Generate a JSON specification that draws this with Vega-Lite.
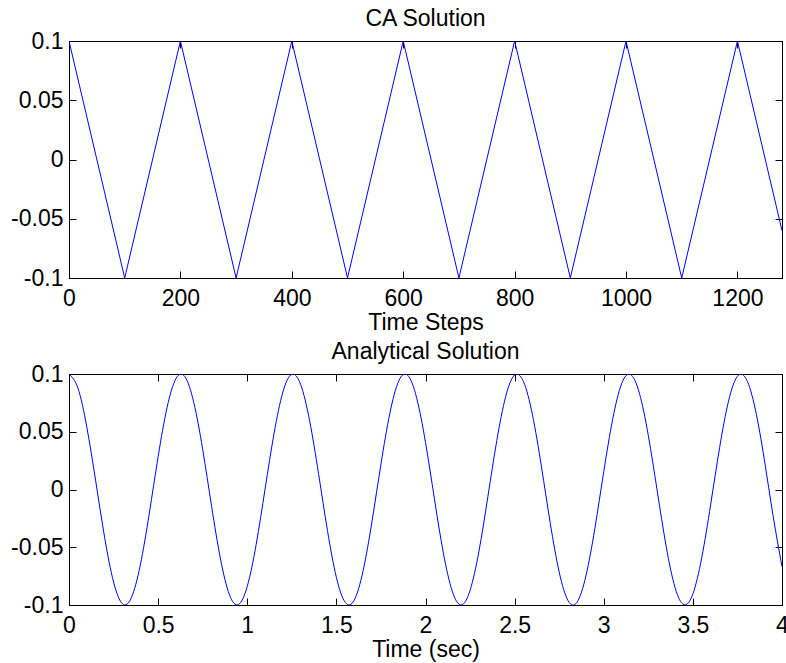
{
  "$schema": "https://vega.github.io/schema/vega-lite/v6.json",
  "padding": {"left": 10, "top": 7, "right": 0, "bottom": 0},
  "background": "white",
  "spacing": 5,
  "datasets": {
    "ca": [
      {"step": 0, "u": 0.1}, {"step": 100, "u": -0.1}, {"step": 200, "u": 0.1},
      {"step": 300, "u": -0.1}, {"step": 400, "u": 0.1}, {"step": 500, "u": -0.1},
      {"step": 600, "u": 0.1}, {"step": 700, "u": -0.1}, {"step": 800, "u": 0.1},
      {"step": 900, "u": -0.1}, {"step": 1000, "u": 0.1}, {"step": 1100, "u": -0.1},
      {"step": 1200, "u": 0.1}, {"step": 1280, "u": -0.06}
    ],
    "an": [
      {"t": 0, "u": 0.1}, {"t": 0.05, "u": 0.0878}, {"t": 0.1, "u": 0.054}, {"t": 0.15, "u": 0.0071},
      {"t": 0.2, "u": -0.0416}, {"t": 0.25, "u": -0.0801}, {"t": 0.3, "u": -0.099}, {"t": 0.35, "u": -0.0936},
      {"t": 0.4, "u": -0.0654}, {"t": 0.45, "u": -0.0211}, {"t": 0.5, "u": 0.0284}, {"t": 0.55, "u": 0.0709},
      {"t": 0.6, "u": 0.096}, {"t": 0.65, "u": 0.0977}, {"t": 0.7, "u": 0.0754}, {"t": 0.75, "u": 0.0347},
      {"t": 0.8, "u": -0.0146}, {"t": 0.85, "u": -0.0602}, {"t": 0.9, "u": -0.0911}, {"t": 0.95, "u": -0.0997},
      {"t": 1.0, "u": -0.0839}, {"t": 1.05, "u": -0.0476}, {"t": 1.1, "u": 0.0004}, {"t": 1.15, "u": 0.0483},
      {"t": 1.2, "u": 0.0844}, {"t": 1.25, "u": 0.0998}, {"t": 1.3, "u": 0.0907}, {"t": 1.35, "u": 0.0595},
      {"t": 1.4, "u": 0.0137}, {"t": 1.45, "u": -0.0355}, {"t": 1.5, "u": -0.076}, {"t": 1.55, "u": -0.0978},
      {"t": 1.6, "u": -0.0958}, {"t": 1.65, "u": -0.0703}, {"t": 1.7, "u": -0.0275}, {"t": 1.75, "u": 0.0219},
      {"t": 1.8, "u": 0.066}, {"t": 1.85, "u": 0.094}, {"t": 1.9, "u": 0.0989}, {"t": 1.95, "u": 0.0796},
      {"t": 2.0, "u": 0.0408}, {"t": 2.05, "u": -0.008}, {"t": 2.1, "u": -0.0548}, {"t": 2.15, "u": -0.088},
      {"t": 2.2, "u": -0.1}, {"t": 2.25, "u": -0.0873}, {"t": 2.3, "u": -0.0533}, {"t": 2.35, "u": -0.0062},
      {"t": 2.4, "u": 0.0424}, {"t": 2.45, "u": 0.0806}, {"t": 2.5, "u": 0.0991}, {"t": 2.55, "u": 0.0933},
      {"t": 2.6, "u": 0.0647}, {"t": 2.65, "u": 0.0202}, {"t": 2.7, "u": -0.0292}, {"t": 2.75, "u": -0.0715},
      {"t": 2.8, "u": -0.0963}, {"t": 2.85, "u": -0.0976}, {"t": 2.9, "u": -0.0748}, {"t": 2.95, "u": -0.0338},
      {"t": 3.0, "u": 0.0154}, {"t": 3.05, "u": 0.0608}, {"t": 3.1, "u": 0.0915}, {"t": 3.15, "u": 0.0996},
      {"t": 3.2, "u": 0.0834}, {"t": 3.25, "u": 0.0467}, {"t": 3.3, "u": -0.0013}, {"t": 3.35, "u": -0.0491},
      {"t": 3.4, "u": -0.0849}, {"t": 3.45, "u": -0.0998}, {"t": 3.5, "u": -0.0904}, {"t": 3.55, "u": -0.0588},
      {"t": 3.6, "u": -0.0128}, {"t": 3.65, "u": 0.0363}, {"t": 3.7, "u": 0.0765}, {"t": 3.75, "u": 0.098},
      {"t": 3.8, "u": 0.0955}, {"t": 3.85, "u": 0.0696}, {"t": 3.9, "u": 0.0267}, {"t": 3.95, "u": -0.0228},
      {"t": 4.0, "u": -0.0667}
    ]
  },
  "vconcat": [
    {
      "width": 713,
      "height": 237,
      "title": {"text": "CA Solution"},
      "data": {"name": "ca"},
      "layer": [
        {
          "mark": {"type": "line", "color": "#0000ff", "strokeWidth": 1, "clip": true},
          "encoding": {
            "x": {"field": "step", "type": "quantitative",
                  "scale": {"domain": [0, 1280], "nice": false, "zero": false},
                  "axis": {"orient": "bottom", "values": [0, 200, 400, 600, 800, 1000, 1200], "format": "d",
                           "title": "Time Steps", "titleY": 51, "titleBaseline": "alphabetic"}},
            "y": {"field": "u", "type": "quantitative",
                  "scale": {"domain": [-0.1, 0.1], "nice": false, "zero": false},
                  "axis": {"orient": "left", "values": [-0.1, -0.05, 0, 0.05, 0.1], "title": null,
                           "labelExpr": "datum.value < 0 ? '-' + format(-datum.value, '~g') : format(datum.value, '~g')"}}
          }
        },
        {
          "mark": {"type": "line", "opacity": 0},
          "encoding": {
            "x": {"field": "step", "type": "quantitative",
                  "axis": {"orient": "top", "values": [0, 200, 400, 600, 800, 1000, 1200], "labels": false, "title": null}},
            "y": {"field": "u", "type": "quantitative",
                  "axis": {"orient": "right", "values": [-0.1, -0.05, 0, 0.05, 0.1], "labels": false, "title": null}}
          }
        }
      ],
      "resolve": {"axis": {"x": "independent", "y": "independent"}}
    },
    {
      "width": 713,
      "height": 231,
      "title": {"text": "Analytical Solution"},
      "data": {"name": "an"},
      "layer": [
        {
          "mark": {"type": "line", "color": "#0000ff", "strokeWidth": 1, "interpolate": "natural", "clip": true},
          "encoding": {
            "x": {"field": "t", "type": "quantitative",
                  "scale": {"domain": [0, 4], "nice": false, "zero": false},
                  "axis": {"orient": "bottom", "values": [0, 0.5, 1, 1.5, 2, 2.5, 3, 3.5, 4], "format": "~g",
                           "title": "Time (sec)", "titleY": 51, "titleBaseline": "alphabetic"}},
            "y": {"field": "u", "type": "quantitative",
                  "scale": {"domain": [-0.1, 0.1], "nice": false, "zero": false},
                  "axis": {"orient": "left", "values": [-0.1, -0.05, 0, 0.05, 0.1], "title": null,
                           "labelExpr": "datum.value < 0 ? '-' + format(-datum.value, '~g') : format(datum.value, '~g')"}}
          }
        },
        {
          "mark": {"type": "line", "opacity": 0},
          "encoding": {
            "x": {"field": "t", "type": "quantitative",
                  "axis": {"orient": "top", "values": [0, 0.5, 1, 1.5, 2, 2.5, 3, 3.5, 4], "labels": false, "title": null}},
            "y": {"field": "u", "type": "quantitative",
                  "axis": {"orient": "right", "values": [-0.1, -0.05, 0, 0.05, 0.1], "labels": false, "title": null}}
          }
        }
      ],
      "resolve": {"axis": {"x": "independent", "y": "independent"}}
    }
  ],
  "config": {
    "font": "Liberation Sans",
    "view": {"stroke": "black", "strokeWidth": 1},
    "axis": {
      "grid": false,
      "domainColor": "black",
      "domainWidth": 1,
      "tickColor": "black",
      "tickWidth": 1,
      "tickSize": -7,
      "labelColor": "black",
      "labelFont": "Liberation Sans",
      "labelFontSize": 23,
      "labelPadding": 16,
      "labelFlush": false,
      "labelOverlap": false,
      "titleColor": "black",
      "titleFont": "Liberation Sans",
      "titleFontSize": 23,
      "titleFontWeight": "normal"
    },
    "axisLeft": {"labelPadding": 13},
    "axisTop": {"labelPadding": 0, "minExtent": 0, "maxExtent": 0},
    "axisRight": {"labelPadding": 0, "minExtent": 0, "maxExtent": 0},
    "title": {
      "font": "Liberation Sans",
      "fontSize": 23,
      "fontWeight": "normal",
      "color": "black",
      "anchor": "middle",
      "baseline": "alphabetic",
      "frame": "group",
      "offset": -1
    }
  }
}
